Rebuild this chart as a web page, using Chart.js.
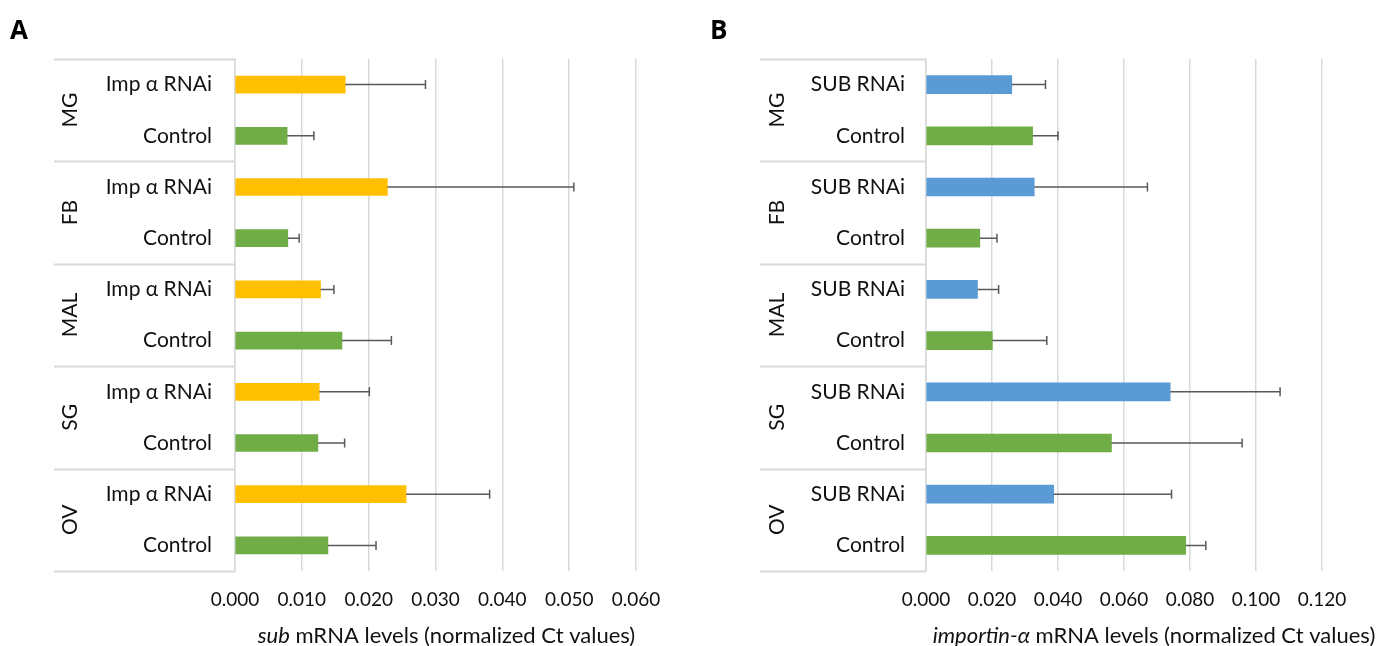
<!DOCTYPE html>
<html>
<head>
<meta charset="utf-8">
<script src="https://cdn.jsdelivr.net/npm/chart.js@4.4.0/dist/chart.umd.min.js"></script>
<style>
  body { margin: 0; background: #fff; width: 1386px; height: 646px; overflow: hidden; position: relative; }
  .panel { position: absolute; top: 0; width: 693px; height: 646px; }
  .letter { position: absolute; top: 11px; font: bold 26px "Open Sans", sans-serif; color: #000; }
</style>
</head>
<body>
<div class="panel" style="left:0"><canvas id="chartA" width="693" height="646"></canvas></div>
<div class="panel" style="left:693px"><canvas id="chartB" width="693" height="646"></canvas></div>
<div class="letter" style="left:10px">A</div>
<div class="letter" style="left:710px">B</div>
<script>
//Tissue groups (two rows each)
const groups = ["MG", "FB", "MAL", "SG", "OV"];

//Panel A: sub mRNA after importin-alpha RNAi
const rowLabelsA = ["Imp α RNAi", "Control", "Imp α RNAi", "Control", "Imp α RNAi", "Control", "Imp α RNAi", "Control", "Imp α RNAi", "Control"];
const valuesA = [0.0165, 0.0078, 0.0228, 0.0079, 0.0128, 0.0160, 0.0126, 0.0124, 0.0256, 0.0139];
const errorsA = [0.0120, 0.0040, 0.0279, 0.0017, 0.0020, 0.0074, 0.0075, 0.0040, 0.0125, 0.0072];
const ticksA = { max: 0.06, step: 0.01 };

//Panel B: importin-alpha mRNA after SUB RNAi
const rowLabelsB = ["SUB RNAi", "Control", "SUB RNAi", "Control", "SUB RNAi", "Control", "SUB RNAi", "Control", "SUB RNAi", "Control"];
const valuesB = [0.0260, 0.0323, 0.0328, 0.0163, 0.0156, 0.0201, 0.0740, 0.0562, 0.0387, 0.0787];
const errorsB = [0.0102, 0.0077, 0.0343, 0.0052, 0.0064, 0.0165, 0.0333, 0.0396, 0.0357, 0.0061];
const ticksB = { max: 0.12, step: 0.02 };

const textColor = "#111";
const gridColor = "#d9d9d9";
const fontFamily = "Lato";
Chart.defaults.font.family = fontFamily;

//Draws the grouped labels on the left with separator lines
const groupPlugin = {
  id: "groups",
  afterDraw(chart, args, opts) {
    const ctx = chart.ctx;
    const area = chart.chartArea;
    const pitch = (area.bottom - area.top) / (groups.length * 2);
    ctx.save();
    ctx.strokeStyle = gridColor;
    ctx.lineWidth = 2;
    for (let i = 0; i <= groups.length; i++) {
      const y = Math.round(area.top + i * pitch * 2) + 0.5;
      ctx.beginPath();
      ctx.moveTo(opts.boxLeft, y);
      ctx.lineTo(area.left, y);
      ctx.stroke();
    }
    ctx.fillStyle = textColor;
    ctx.font = "21px " + fontFamily;
    ctx.textAlign = "center";
    ctx.textBaseline = "middle";
    groups.forEach((g, i) => {
      const y = area.top + (i * 2 + 1) * pitch;
      ctx.save();
      ctx.translate(opts.labelX, y);
      ctx.rotate(-Math.PI / 2);
      ctx.fillText(g, 0, 0);
      ctx.restore();
    });
    ctx.restore();
  },
};

//Error bars (upper side only) drawn through the x scale
const errorPlugin = {
  id: "errorbars",
  afterDatasetsDraw(chart, args, opts) {
    const ctx = chart.ctx;
    const xs = chart.scales.x;
    const meta = chart.getDatasetMeta(0);
    const vals = chart.data.datasets[0].data;
    ctx.save();
    ctx.strokeStyle = "#595959";
    ctx.lineWidth = 1.5;
    meta.data.forEach((bar, i) => {
      const x1 = xs.getPixelForValue(vals[i]);
      const x2 = xs.getPixelForValue(vals[i] + opts.errors[i]);
      const y = bar.y;
      ctx.beginPath();
      ctx.moveTo(x1, y);
      ctx.lineTo(x2, y);
      ctx.moveTo(x2, y - 4.5);
      ctx.lineTo(x2, y + 4.5);
      ctx.stroke();
    });
    ctx.restore();
  },
};

//Axis title with an italic gene name
const titlePlugin = {
  id: "axisTitle",
  afterDraw(chart, args, opts) {
    const ctx = chart.ctx;
    const area = chart.chartArea;
    ctx.save();
    ctx.fillStyle = textColor;
    ctx.textBaseline = "middle";
    const fItal = "italic 22px " + fontFamily;
    const fNorm = "22px " + fontFamily;
    ctx.font = fItal;
    const w1 = ctx.measureText(opts.italic).width;
    ctx.font = fNorm;
    const w2 = ctx.measureText(opts.rest).width;
    let x = (area.left + area.right) / 2 + opts.shift - (w1 + w2) / 2;
    ctx.font = fItal;
    ctx.fillText(opts.italic, x, opts.y);
    ctx.font = fNorm;
    ctx.fillText(opts.rest, x + w1, opts.y);
    ctx.restore();
  },
};

function generateChart(elementID, rowLabels, values, errors, tickInfo, cfg) {
  const colors = rowLabels.map((l) => (l === "Control" ? "#70ad47" : cfg.color));
  const config = {
    type: "bar",
    data: {
      labels: rowLabels,
      datasets: [
        {
          data: values,
          backgroundColor: colors,
          barThickness: cfg.barThickness,
        },
      ],
    },
    options: {
      indexAxis: "y",
      responsive: false,
      animation: false,
      layout: { padding: { left: 0, right: cfg.rightPad, top: 59, bottom: 0 } },
      plugins: {
        legend: { display: false },
        tooltip: { enabled: false },
        groups: { boxLeft: cfg.boxLeft, labelX: cfg.groupX },
        errorbars: { errors: errors },
        axisTitle: { italic: cfg.italic, rest: cfg.rest, y: 636, shift: cfg.titleShift },
      },
      scales: {
        x: {
          min: 0,
          max: tickInfo.max,
          afterFit: (s) => { s.height = 75; },
          afterBuildTicks: (s) => {
            const t = [];
            for (let i = 0; i <= Math.round(tickInfo.max / tickInfo.step); i++) t.push({ value: i * tickInfo.step });
            s.ticks = t;
          },
          ticks: {
            callback: (v) => Number(v).toFixed(3),
            color: textColor,
            font: { size: 19 },
            padding: 17,
            maxRotation: 0,
          },
          grid: { color: gridColor, lineWidth: 1.5, drawTicks: false },
          border: { display: false },
        },
        y: {
          afterFit: (s) => { s.width = cfg.axisLeft; },
          ticks: { color: textColor, font: { size: 21 }, padding: cfg.labelPad },
          grid: { display: false, drawTicks: false },
          border: { display: true, color: gridColor, width: 1.5 },
        },
      },
    },
    plugins: [groupPlugin, errorPlugin, titlePlugin],
  };
  return new Chart(document.getElementById(elementID).getContext("2d"), config);
}

generateChart("chartA", rowLabelsA, valuesA, errorsA, ticksA, {
  color: "#ffc000", barThickness: 17, rightPad: 57, axisLeft: 235, boxLeft: 54, groupX: 70,
  labelPad: 23, italic: "sub", rest: " mRNA levels (normalized Ct values)", titleShift: 11,
});
generateChart("chartB", rowLabelsB, valuesB, errorsB, ticksB, {
  color: "#5b9bd5", barThickness: 18, rightPad: 64, axisLeft: 233, boxLeft: 67, groupX: 84,
  labelPad: 21, italic: "importin-α", rest: " mRNA levels (normalized Ct values)", titleShift: 30,
});
</script>
</body>
</html>
